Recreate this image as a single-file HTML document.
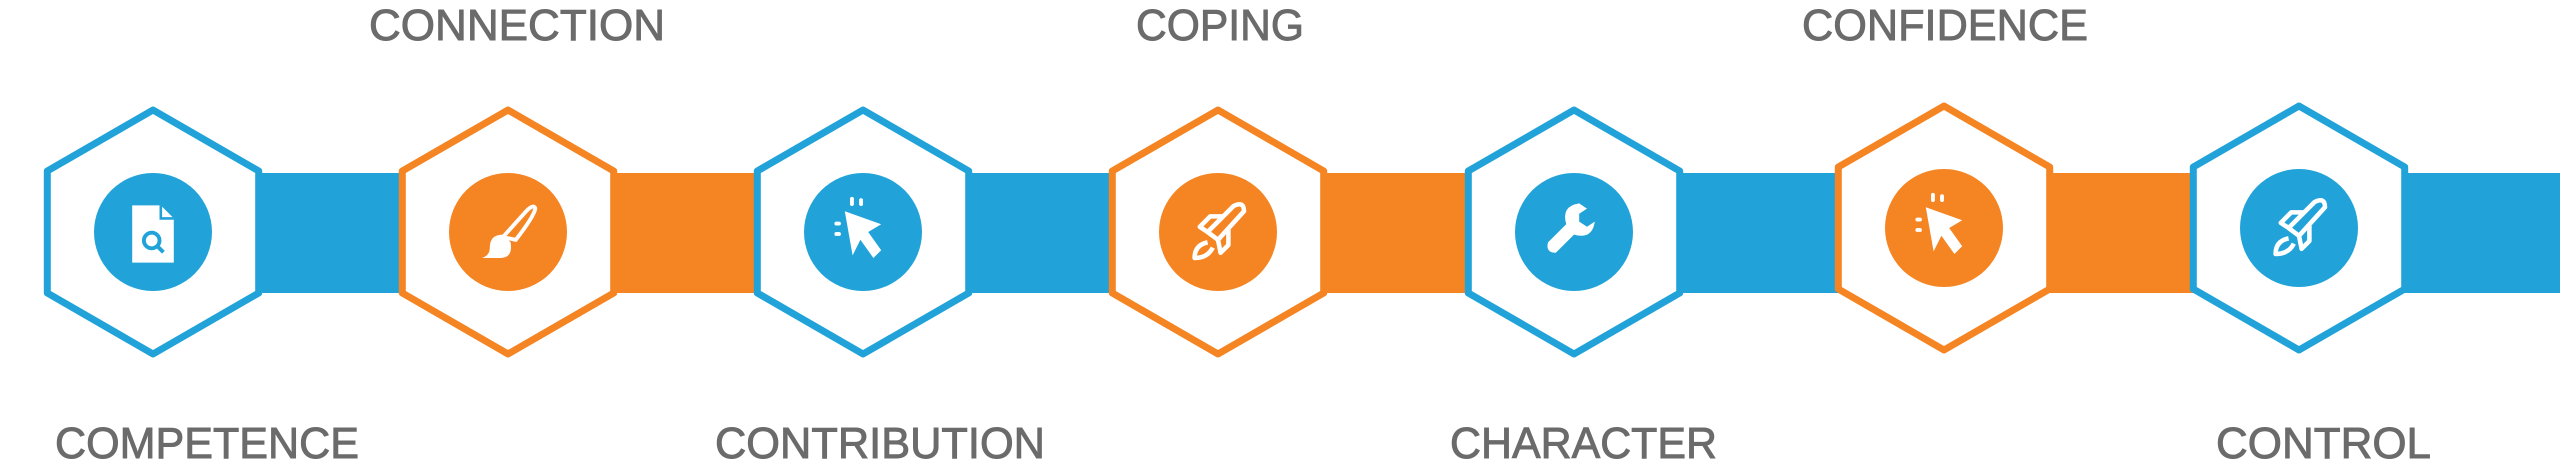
<!DOCTYPE html>
<html><head><meta charset="utf-8"><style>
html,body{margin:0;padding:0;background:#fff;}
svg{display:block;}
text{font-family:"Liberation Sans",sans-serif;fill:#6b6b6b;font-size:44px;stroke:#6b6b6b;stroke-width:0.9;}
</style></head><body>
<svg width="2560" height="468" viewBox="0 0 2560 468" xmlns="http://www.w3.org/2000/svg">
<defs>
<polygon id="hx" points="0,-122 105.7,-61 105.7,61 0,122 -105.7,61 -105.7,-61"/>
<g id="doc" fill="#fff" transform="scale(1.3)">
  <path d="M-16,-22 H6 L16,-12 V22 H-16 Z"/>
  <circle cx="-1" cy="5" r="6" fill="none" stroke="#21a3d9" stroke-width="3"/>
  <line x1="3" y1="9" x2="8" y2="14" stroke="#21a3d9" stroke-width="3"/>
  <path d="M6,-22 V-12 H16" fill="none" stroke="#21a3d9" stroke-width="2"/>
</g>
<g id="brush" fill="#fff" transform="scale(1.3)">
  <path d="M-4,4 L14,-16 Q20,-22 21,-18 Q20,-12 6,6 Z" fill="none" stroke="#fff" stroke-width="3"/>
  <path d="M-4,2 Q-14,2 -14,12 Q-14,18 -20,20 H-6 Q4,20 2,8 Z"/>
</g>
<g id="cursor" fill="#fff" transform="scale(1.3)">
  <path d="M-14,-16 L14,-6 L4,0 L14,14 L8,20 L-2,6 L-8,18 Z"/>
  <rect x="-10" y="-27" width="3" height="7" rx="1.5"/>
  <rect x="-3" y="-26" width="3" height="6" rx="1.5"/>
  <rect x="-22" y="-8" width="5" height="3" rx="1.5"/>
  <rect x="-22" y="0" width="5" height="3" rx="1.5"/>
</g>
<g id="rocket" fill="none" stroke="#fff" stroke-width="3.5" stroke-linejoin="round" transform="scale(1.3)">
  <path d="M-8,0 L12,-20 Q20,-24 20,-16 L0,6 Z"/>
  <path d="M-8,0 L-14,-4 L-6,-12 L4,-12"/>
  <path d="M0,6 L2,16 L8,10 V-2"/>
  <path d="M-8,8 Q-18,10 -18,20 Q-8,20 -4,12"/>
</g>
<g id="wrench" fill="#fff" transform="scale(1.3)">
  <path d="M4,-22 Q-10,-20 -6,-6 L-20,8 Q-22,16 -14,16 L0,2 Q14,6 16,-8 L10,-4 L4,-8 L4,-14 L10,-18 Z"/>
</g>
</defs>

<rect x="153" y="173" width="355" height="120" fill="#21a3d9"/>
<rect x="508" y="173" width="355" height="120" fill="#f58423"/>
<rect x="863" y="173" width="355" height="120" fill="#21a3d9"/>
<rect x="1218" y="173" width="356" height="120" fill="#f58423"/>
<rect x="1574" y="173" width="370" height="120" fill="#21a3d9"/>
<rect x="1944" y="173" width="355" height="120" fill="#f58423"/>
<rect x="2299" y="173" width="261" height="120" fill="#21a3d9"/>

<g stroke-width="7" stroke-linejoin="round" fill="#fff">
<use href="#hx" x="153" y="232" stroke="#21a3d9"/>
<use href="#hx" x="508" y="232" stroke="#f58423"/>
<use href="#hx" x="863" y="232" stroke="#21a3d9"/>
<use href="#hx" x="1218" y="232" stroke="#f58423"/>
<use href="#hx" x="1574" y="232" stroke="#21a3d9"/>
<use href="#hx" x="1944" y="228" stroke="#f58423"/>
<use href="#hx" x="2299" y="228" stroke="#21a3d9"/>
</g>
<circle cx="153" cy="232" r="59" fill="#21a3d9"/>
<circle cx="508" cy="232" r="59" fill="#f58423"/>
<circle cx="863" cy="232" r="59" fill="#21a3d9"/>
<circle cx="1218" cy="232" r="59" fill="#f58423"/>
<circle cx="1574" cy="232" r="59" fill="#21a3d9"/>
<circle cx="1944" cy="228" r="59" fill="#f58423"/>
<circle cx="2299" cy="228" r="59" fill="#21a3d9"/>

<use href="#doc" x="153" y="234"/>
<use href="#brush" x="508" y="232"/>
<use href="#cursor" x="863" y="232"/>
<use href="#rocket" x="1218" y="232"/>
<use href="#wrench" x="1574" y="232"/>
<use href="#cursor" x="1944" y="228"/>
<use href="#rocket" x="2299" y="228"/>

<text x="369" y="40" textLength="296" lengthAdjust="spacingAndGlyphs">CONNECTION</text>
<text x="1136" y="40" textLength="168" lengthAdjust="spacingAndGlyphs">COPING</text>
<text x="1802" y="40" textLength="286" lengthAdjust="spacingAndGlyphs">CONFIDENCE</text>
<text x="55" y="458" textLength="304" lengthAdjust="spacingAndGlyphs">COMPETENCE</text>
<text x="715" y="458" textLength="330" lengthAdjust="spacingAndGlyphs">CONTRIBUTION</text>
<text x="1450" y="458" textLength="267" lengthAdjust="spacingAndGlyphs">CHARACTER</text>
<text x="2216" y="458" textLength="215" lengthAdjust="spacingAndGlyphs">CONTROL</text>
</svg>
</body></html>
